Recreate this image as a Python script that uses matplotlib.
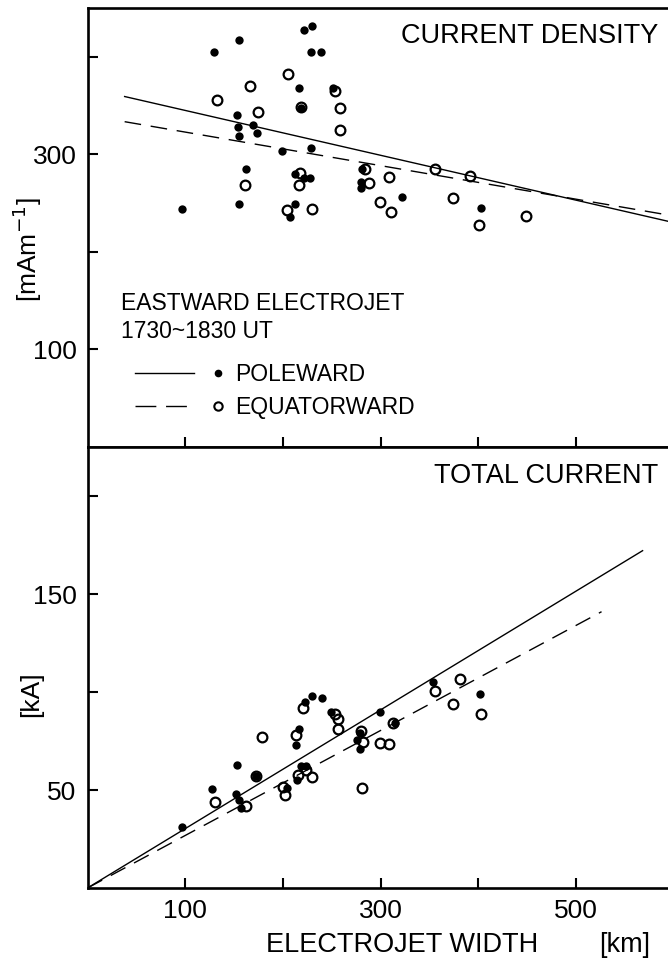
""" electrojet width vs current density / total current """

import matplotlib
matplotlib.use('Agg')
import matplotlib.pyplot as plt
from matplotlib.lines import Line2D
from matplotlib.legend_handler import HandlerBase

plt.rcParams['font.family'] = ['Liberation Sans', 'DejaVu Sans']

# current density [mA/m] vs electrojet width [km]
cd_pole_w = [97, 129, 155, 153, 154, 155, 169, 173, 162, 155, 199, 229, 216, 222, 230,
             229, 239, 251, 218, 212, 228, 222, 212, 207, 281, 280, 280, 322, 403]
cd_pole_j = [244, 405, 417, 340, 328, 319, 330, 322, 285, 249, 303, 306, 368, 427, 432,
             405, 405, 368, 347, 280, 276, 276, 249, 236, 285, 272, 265, 256, 245]
cd_equ_w = [133, 166, 174, 205, 218, 253, 258, 258, 161, 217, 216, 204, 230, 284, 288,
            309, 299, 311, 356, 391, 374, 401, 449]
cd_equ_j = [356, 370, 343, 382, 349, 365, 348, 325, 269, 281, 269, 243, 244, 285, 271,
            277, 251, 241, 285, 278, 255, 228, 237]

# total current [kA] vs electrojet width [km]
tc_pole_w = [97, 127, 153, 152, 157, 155, 172, 216, 213, 223, 230, 240, 249, 204, 214,
             218, 224, 279, 276, 279, 315, 299, 354, 402]
tc_pole_i = [31, 50.5, 63, 48, 41, 45, 57, 81, 73, 95, 98, 97, 90, 51, 55,
             62, 62, 79, 75.5, 71, 84, 90, 105, 99]
tc_equ_w = [130, 162, 172, 179, 213, 220, 253, 256, 256, 200, 202, 215, 230, 224, 282,
            280, 299, 309, 313, 281, 356, 381, 374, 403]
tc_equ_i = [44, 42, 57, 77, 78, 92, 89, 86, 81, 51.5, 47.5, 57.6, 56.6, 60, 74.5,
            80, 74, 73.5, 84, 51, 100.5, 106.5, 94, 89]

# regression lines: (intercept, slope), x range
cd_fit_pole = (368, -0.230)
cd_fit_equ = (340, -0.172)
cd_fit_x = [38, 600]
tc_fit_pole = (0, 0.303)
tc_fit_equ = (0, 0.268)
tc_fit_x_pole = [0, 568]
tc_fit_x_equ = [0, 526]

x_ticks = [100, 200, 300, 400, 500]
x_ticklabels = ['100', '', '300', '', '500']
cd_ticks = [100, 200, 300, 400]
cd_ticklabels = ['100', '', '300', '']
tc_ticks = [50, 100, 150, 200]
tc_ticklabels = ['50', '', '150', '']

DASH = (12, 7)


class LineDot(HandlerBase):
    # line segment first, then the symbol a bit to the right
    def create_artists(self, legend, orig_handle, xdescent, ydescent,
                       width, height, fontsize, trans):
        y = height / 2 - ydescent
        x0 = -xdescent
        seg = Line2D([x0, x0 + 0.66 * width], [y, y])
        seg.update_from(orig_handle)
        seg.set_marker('None')
        seg.set_transform(trans)
        dot = Line2D([x0 + 0.92 * width], [y])
        dot.update_from(orig_handle)
        dot.set_linestyle('None')
        dot.set_transform(trans)
        return [seg, dot]


fig = plt.figure(figsize=(6.68, 9.66), dpi=100)
ax1 = fig.add_axes([87.5 / 668, 1 - 447 / 966, 580.5 / 668, 439 / 966])
ax2 = fig.add_axes([87.5 / 668, 1 - 888 / 966, 580.5 / 668, 441 / 966])

for ax in (ax1, ax2):
    ax.set_xlim(0, 594)
    ax.spines['right'].set_visible(False)
    for s in ('left', 'top', 'bottom'):
        ax.spines[s].set_linewidth(1.9)
    ax.tick_params(direction='in', length=7, width=1.5, labelsize=19, pad=8)
    ax.set_xticks(x_ticks)

# --- top: current density
ax1.set_ylim(0, 450)
ax1.set_yticks(cd_ticks)
ax1.set_yticklabels(cd_ticklabels)
ax1.tick_params(axis='x', labelbottom=False)
ax1.plot(cd_fit_x, [cd_fit_pole[0] + cd_fit_pole[1] * x for x in cd_fit_x],
         color='black', lw=1.0)
ax1.plot(cd_fit_x, [cd_fit_equ[0] + cd_fit_equ[1] * x for x in cd_fit_x],
         color='black', lw=1.0, dashes=DASH)
ax1.plot(cd_pole_w, cd_pole_j, 'o', ms=6.0, color='black', mew=0)
ax1.plot(cd_equ_w, cd_equ_j, 'o', ms=7.0, mfc='none', mec='black', mew=1.6)
ax1.text(0.983, 0.936, 'CURRENT DENSITY', transform=ax1.transAxes,
         ha='right', va='center', fontsize=19.5)
ax1.text(0.058, 0.328, 'EASTWARD ELECTROJET', transform=ax1.transAxes,
         ha='left', va='center', fontsize=16.5)
ax1.text(0.058, 0.262, '1730~1830 UT', transform=ax1.transAxes,
         ha='left', va='center', fontsize=16.5)

h_pole = Line2D([], [], color='black', lw=1.0, marker='o', ms=5.5, mfc='black', mew=0)
h_equ = Line2D([], [], color='black', lw=1.0, dashes=(15, 7), marker='o', ms=6,
               mfc='none', mec='black', mew=1.5)
ax1.legend([h_pole, h_equ], ['POLEWARD', 'EQUATORWARD'],
           handler_map={Line2D: LineDot()}, loc='center left',
           bbox_to_anchor=(0.0826, 0.127), frameon=False, fontsize=16.5,
           handlelength=3.9, handletextpad=0.45, labelspacing=0.45,
           borderpad=0, borderaxespad=0)

# --- bottom: total current
ax2.set_ylim(0, 225)
ax2.set_yticks(tc_ticks)
ax2.set_yticklabels(tc_ticklabels)
ax2.set_xticklabels(x_ticklabels)
ax2.plot(tc_fit_x_pole, [tc_fit_pole[0] + tc_fit_pole[1] * x for x in tc_fit_x_pole],
         color='black', lw=1.0)
ax2.plot(tc_fit_x_equ, [tc_fit_equ[0] + tc_fit_equ[1] * x for x in tc_fit_x_equ],
         color='black', lw=1.0, dashes=DASH)
ax2.plot(tc_pole_w, tc_pole_i, 'o', ms=6.0, color='black', mew=0)
ax2.plot(tc_equ_w, tc_equ_i, 'o', ms=7.0, mfc='none', mec='black', mew=1.6)
ax2.text(0.983, 0.935, 'TOTAL CURRENT', transform=ax2.transAxes,
         ha='right', va='center', fontsize=19.5)

# axis labels
fig.text(402 / 668, 1 - 945 / 966, 'ELECTROJET WIDTH', ha='center', va='center', fontsize=19.5)
fig.text(625 / 668, 1 - 945 / 966, '[km]', ha='center', va='center', fontsize=19.5)
fig.text(27 / 668, 1 - 250 / 966, r'[mAm$^{-1}$]', rotation=90,
         ha='center', va='center', fontsize=19)
fig.text(31 / 668, 1 - 694 / 966, '[kA]', rotation=90,
         ha='center', va='center', fontsize=19)

fig.savefig('out.png', dpi=100)
